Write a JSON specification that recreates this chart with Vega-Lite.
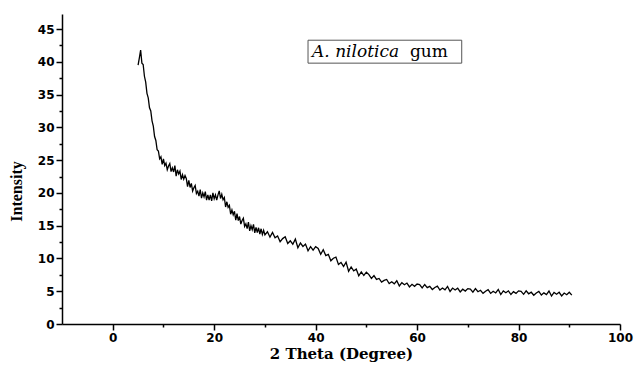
{
  "$schema": "https://vega.github.io/schema/vega-lite/v6.json",
  "autosize": {"type": "none"},
  "padding": {"left": 62, "top": 14, "right": 17, "bottom": 42},
  "width": 558,
  "height": 310,
  "background": "white",
  "config": {"view": {"stroke": null}},
  "datasets": {
    "xrd": [
      {"x":5.0,"y":39.5},{"x":5.25,"y":40.6},{"x":5.5,"y":41.8},{"x":5.75,"y":39.8},{"x":6.0,"y":39.6},{"x":6.25,"y":37.8},{"x":6.5,"y":36.9},{"x":6.75,"y":35.2},{"x":7.0,"y":34.5},{"x":7.25,"y":33.0},{"x":7.5,"y":32.5},{"x":7.75,"y":31.0},{"x":8.0,"y":30.2},{"x":8.25,"y":28.6},{"x":8.5,"y":28.0},{"x":8.75,"y":26.6},{"x":9.0,"y":26.4},{"x":9.25,"y":25.2},
      {"x":9.5,"y":25.5},{"x":9.75,"y":24.35},{"x":10.0,"y":25.2},{"x":10.25,"y":24.18},{"x":10.5,"y":24.55},{"x":10.75,"y":23.53},{"x":11.0,"y":24.1},{"x":11.25,"y":24.48},{"x":11.5,"y":23.25},{"x":11.75,"y":23.83},{"x":12.0,"y":23.2},{"x":12.25,"y":24.18},{"x":12.5,"y":22.55},{"x":12.75,"y":23.53},{"x":13.0,"y":22.9},{"x":13.25,"y":23.33},{"x":13.5,"y":22.05},{"x":13.75,"y":22.78},{"x":14.0,"y":22.1},{"x":14.25,"y":22.65},
      {"x":14.5,"y":22.2},{"x":14.75,"y":20.95},{"x":15.0,"y":21.9},{"x":15.25,"y":20.83},{"x":15.5,"y":21.45},{"x":15.75,"y":20.28},{"x":16.0,"y":20.8},{"x":16.25,"y":21.15},{"x":16.5,"y":19.9},{"x":16.75,"y":20.25},{"x":17.0,"y":19.5},{"x":17.25,"y":20.5},{"x":17.5,"y":19.2},{"x":17.75,"y":20.0},{"x":18.0,"y":19.4},{"x":18.25,"y":20.2},{"x":18.5,"y":18.9},{"x":18.75,"y":19.7},{"x":19.0,"y":18.9},{"x":19.25,"y":19.7},
      {"x":19.5,"y":18.8},{"x":19.75,"y":20.0},{"x":20.0,"y":19.1},{"x":20.25,"y":19.7},{"x":20.5,"y":18.9},{"x":20.75,"y":19.7},{"x":21.0,"y":20.3},{"x":21.25,"y":19.15},{"x":21.5,"y":19.8},{"x":21.75,"y":18.95},{"x":22.0,"y":19.3},{"x":22.25,"y":17.85},{"x":22.5,"y":18.65},{"x":22.75,"y":17.8},{"x":23.0,"y":18.1},{"x":23.25,"y":16.75},{"x":23.5,"y":17.4},{"x":23.75,"y":16.65},{"x":24.0,"y":17.2},
      {"x":24.25,"y":15.83},{"x":24.5,"y":16.85},{"x":24.75,"y":15.78},{"x":25.0,"y":16.4},{"x":25.25,"y":15.25},{"x":25.5,"y":15.8},{"x":25.75,"y":16.15},{"x":26.0,"y":14.9},{"x":26.25,"y":15.28},{"x":26.5,"y":14.55},{"x":26.75,"y":15.53},{"x":27.0,"y":14.2},{"x":27.25,"y":15.0},{"x":27.5,"y":14.4},{"x":27.75,"y":15.2},{"x":28.0,"y":13.9},{"x":28.25,"y":14.73},{"x":28.5,"y":13.95},{"x":28.75,"y":14.68},{"x":29.0,"y":13.7},{"x":29.25,"y":14.53},{"x":29.5,"y":13.65},{"x":29.75,"y":14.28},{"x":30.0,"y":13.6},
      {"x":30.5,"y":14.08},{"x":31.0,"y":13.25},{"x":31.5,"y":13.98},{"x":32.0,"y":13.15},{"x":32.5,"y":13.43},{"x":33.0,"y":12.55},{"x":33.5,"y":13.03},{"x":34.0,"y":13.3},{"x":34.5,"y":12.28},{"x":35.0,"y":12.7},{"x":35.5,"y":12.18},{"x":36.0,"y":12.95},{"x":36.5,"y":11.63},{"x":37.0,"y":12.35},{"x":37.5,"y":11.83},{"x":38.0,"y":12.2},{"x":38.5,"y":11.18},{"x":39.0,"y":11.8},{"x":39.5,"y":11.28},{"x":40.0,"y":11.8},
      {"x":40.5,"y":11.53},{"x":41.0,"y":10.65},{"x":41.5,"y":11.33},{"x":42.0,"y":10.45},{"x":42.5,"y":10.63},{"x":43.0,"y":9.65},{"x":43.5,"y":10.03},{"x":44.0,"y":10.2},{"x":44.5,"y":9.08},{"x":45.0,"y":9.4},{"x":45.5,"y":8.78},{"x":46.0,"y":9.45},{"x":46.5,"y":8.05},{"x":47.0,"y":8.7},{"x":47.5,"y":8.1},{"x":48.0,"y":8.4},{"x":48.5,"y":7.35},{"x":49.0,"y":7.95},{"x":49.5,"y":7.4},{"x":50.0,"y":7.9},
      {"x":50.5,"y":7.53},{"x":51.0,"y":6.95},{"x":51.5,"y":7.38},{"x":52.0,"y":6.8},{"x":52.5,"y":6.95},{"x":53.0,"y":6.4},{"x":53.5,"y":6.65},{"x":54.0,"y":6.8},{"x":54.5,"y":6.18},{"x":55.0,"y":6.45},{"x":55.5,"y":6.13},{"x":56.0,"y":6.6},{"x":56.5,"y":5.8},{"x":57.0,"y":6.3},{"x":57.5,"y":6.0},{"x":58.0,"y":6.25},{"x":58.5,"y":5.65},{"x":59.0,"y":6.05},{"x":59.5,"y":5.75},{"x":60.0,"y":6.1},
      {"x":60.5,"y":6.01},{"x":61.0,"y":5.52},{"x":61.5,"y":6.03},{"x":62.0,"y":5.54},{"x":62.5,"y":5.75},{"x":63.0,"y":5.26},{"x":63.5,"y":5.57},{"x":64.0,"y":5.78},{"x":64.5,"y":5.19},{"x":65.0,"y":5.5},{"x":65.5,"y":5.22},{"x":66.0,"y":5.74},{"x":66.5,"y":4.96},{"x":67.0,"y":5.48},{"x":67.5,"y":5.2},{"x":68.0,"y":5.47},{"x":68.5,"y":4.89},{"x":69.0,"y":5.31},{"x":69.5,"y":5.03},{"x":70.0,"y":5.4},
      {"x":70.5,"y":5.33},{"x":71.0,"y":4.86},{"x":71.5,"y":5.39},{"x":72.0,"y":4.92},{"x":72.5,"y":5.15},{"x":73.0,"y":4.68},{"x":73.5,"y":5.01},{"x":74.0,"y":5.24},{"x":74.5,"y":4.67},{"x":75.0,"y":5.0},{"x":75.5,"y":4.74},{"x":76.0,"y":5.27},{"x":76.5,"y":4.5},{"x":77.0,"y":5.04},{"x":77.5,"y":4.78},{"x":78.0,"y":5.06},{"x":78.5,"y":4.5},{"x":79.0,"y":4.93},{"x":79.5,"y":4.67},{"x":80.0,"y":5.05},
      {"x":80.5,"y":4.99},{"x":81.0,"y":4.53},{"x":81.5,"y":5.07},{"x":82.0,"y":4.61},{"x":82.5,"y":4.85},{"x":83.0,"y":4.39},{"x":83.5,"y":4.73},{"x":84.0,"y":4.97},{"x":84.5,"y":4.41},{"x":85.0,"y":4.75},{"x":85.5,"y":4.49},{"x":86.0,"y":5.03},{"x":86.5,"y":4.27},{"x":87.0,"y":4.81},{"x":87.5,"y":4.55},{"x":88.0,"y":4.84},{"x":88.5,"y":4.28},{"x":89.0,"y":4.72},{"x":89.5,"y":4.46},{"x":90.0,"y":4.85},{"x":90.5,"y":4.4}
    ],
    "box": [{"x1": 38.5, "x2": 68.8, "y1": 39.8, "y2": 43.3}],
    "labels": [
      {"x": 39.3, "y": 40.7, "text": "A. nilotica", "kind": "italic"},
      {"x": 58.6, "y": 40.7, "text": "gum", "kind": "normal"}
    ]
  },
  "resolve": {"axis": {"x": "independent", "y": "independent"}},
  "layer": [
    {
      "data": {"name": "xrd"},
      "mark": {"type": "line", "color": "black", "strokeWidth": 1.3},
      "encoding": {
        "x": {
          "field": "x", "type": "quantitative",
          "scale": {"domain": [-10, 100], "nice": false, "zero": false},
          "axis": {
            "orient": "bottom",
            "title": "2 Theta (Degree)",
            "titleFont": "DejaVu Serif", "titleFontWeight": "bold", "titleFontSize": 15, "titleColor": "black",
            "titlePadding": 3,
            "values": [0, 20, 40, 60, 80, 100],
            "labelFont": "DejaVu Sans", "labelFontSize": 12, "labelFontWeight": "bold", "labelColor": "black",
            "labelPadding": 2, "labelFlush": false, "labelOverlap": false,
            "tickSize": 6, "tickColor": "black", "tickWidth": 1.5,
            "domainColor": "black", "domainWidth": 1.5,
            "grid": false
          }
        },
        "y": {
          "field": "y", "type": "quantitative",
          "scale": {"domain": [0, 47.3], "nice": false},
          "axis": {
            "orient": "left",
            "title": "Intensity",
            "titleFont": "Liberation Serif", "titleFontWeight": "bold", "titleFontSize": 16, "titleColor": "black",
            "titleAngle": -90, "titleX": -38, "titleY": 177, "titleAlign": "center", "titleBaseline": "bottom",
            "values": [0, 5, 10, 15, 20, 25, 30, 35, 40, 45],
            "labelFont": "DejaVu Sans", "labelFontSize": 12, "labelFontWeight": "bold", "labelColor": "black",
            "labelPadding": 2, "labelOverlap": false, "labelFlush": false,
            "tickSize": 6, "tickColor": "black", "tickWidth": 1.5,
            "domainColor": "black", "domainWidth": 1.5,
            "grid": false
          }
        }
      }
    },
    {
      "data": {"name": "xrd"},
      "mark": {"type": "line", "strokeOpacity": 0},
      "encoding": {
        "x": {
          "field": "x", "type": "quantitative",
          "axis": {
            "orient": "bottom", "title": null, "labels": false, "domain": false, "grid": false,
            "values": [10, 30, 50, 70, 90],
            "tickSize": 3, "tickColor": "black", "tickWidth": 1.5
          }
        },
        "y": {
          "field": "y", "type": "quantitative",
          "axis": {
            "orient": "left", "title": null, "labels": false, "domain": false, "grid": false,
            "values": [2.5, 7.5, 12.5, 17.5, 22.5, 27.5, 32.5, 37.5, 42.5],
            "tickSize": 3, "tickColor": "black", "tickWidth": 1.5
          }
        }
      }
    },
    {
      "data": {"name": "box"},
      "mark": {"type": "rect", "fill": "white", "stroke": "#555555", "strokeWidth": 1},
      "encoding": {
        "x": {"field": "x1", "type": "quantitative", "axis": null},
        "x2": {"field": "x2"},
        "y": {"field": "y1", "type": "quantitative", "axis": null},
        "y2": {"field": "y2"}
      }
    },
    {
      "data": {"name": "labels"},
      "transform": [{"filter": "datum.kind === 'italic'"}],
      "mark": {"type": "text", "font": "DejaVu Serif", "fontStyle": "italic", "fontSize": 17, "align": "left", "baseline": "alphabetic", "color": "black"},
      "encoding": {
        "x": {"field": "x", "type": "quantitative", "axis": null},
        "y": {"field": "y", "type": "quantitative", "axis": null},
        "text": {"field": "text"}
      }
    },
    {
      "data": {"name": "labels"},
      "transform": [{"filter": "datum.kind === 'normal'"}],
      "mark": {"type": "text", "font": "DejaVu Serif", "fontSize": 17, "align": "left", "baseline": "alphabetic", "color": "black"},
      "encoding": {
        "x": {"field": "x", "type": "quantitative", "axis": null},
        "y": {"field": "y", "type": "quantitative", "axis": null},
        "text": {"field": "text"}
      }
    }
  ]
}
